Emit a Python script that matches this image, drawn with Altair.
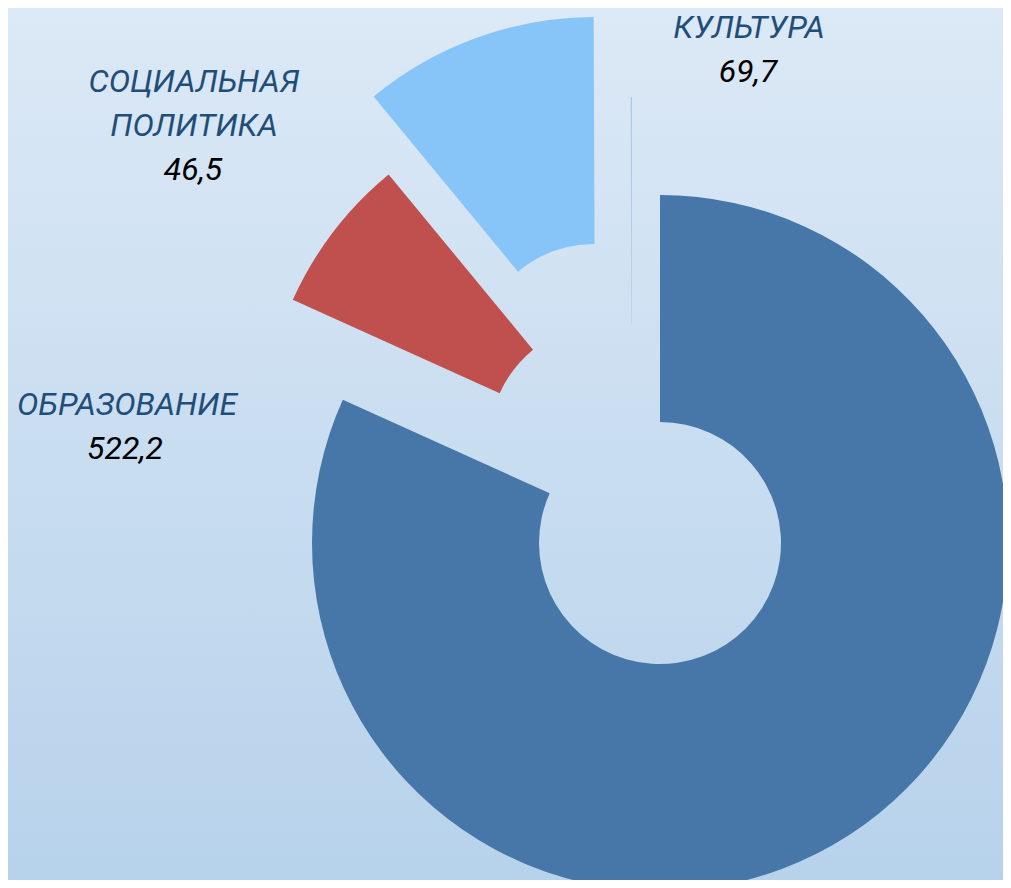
import altair as alt
import pandas as pd

# ---- data ----
categories = ["ОБРАЗОВАНИЕ", "СОЦИАЛЬНАЯ ПОЛИТИКА", "КУЛЬТУРА", ""]
values = [522.2, 46.5, 69.7, 0.4]
value_labels = [f"{v:.1f}".replace(".", ",") if c else "" for c, v in zip(categories, values)]

# ---- style ----
colors = ["#4677a8", "#c0504d", "#87c5f8", "#b0c9e6"]
explode_dx = [0, -50, -65, -28]
explode_dy = [0, -100, -178, -98]
CX, CY = 652, 535
W, H = 995, 872
OUTER, INNER = 348, 121

df = pd.DataFrame({
    "category": categories,
    "value": values,
    "vlabel": value_labels,
    "order": list(range(len(categories))),
    "dx": explode_dx,
    "dy": explode_dy,
})

bg = alt.Chart(pd.DataFrame({"a": [0]})).mark_rect(
    fill=alt.Gradient(
        gradient="linear",
        stops=[alt.GradientStop(color="#dce9f6", offset=0),
               alt.GradientStop(color="#b7d2eb", offset=1)],
        x1=0, x2=0, y1=0, y2=1,
    )
).encode(x=alt.value(0), x2=alt.value(W), y=alt.value(0), y2=alt.value(H))

arcs = alt.Chart(df).transform_window(
    cum="sum(value)", sort=[alt.SortField("order")], frame=[None, 0]
).transform_joinaggregate(
    total="sum(value)"
).transform_calculate(
    a0="2*PI*(datum.cum - datum.value)/datum.total",
    a1="2*PI*datum.cum/datum.total",
    px=f"{CX} + datum.dx",
    py=f"{CY} + datum.dy",
).mark_arc(radius=OUTER, innerRadius=INNER, clip=True).encode(
    x=alt.X("px:Q", scale=None, axis=None),
    y=alt.Y("py:Q", scale=None, axis=None),
    theta=alt.Theta("a0:Q", scale=None),
    theta2="a1:Q",
    color=alt.Color("category:N", scale=alt.Scale(domain=categories, range=colors), legend=None),
)

# label positions (style): category -> (name x, first-line y, value x, value y)
label_pos = {
    "ОБРАЗОВАНИЕ": (119, 397, 117, 441),
    "СОЦИАЛЬНАЯ ПОЛИТИКА": (186, 74, 185, 162),
    "КУЛЬТУРА": (741, 20, 740, 64),
}

labels = []
for cat, (nx, ny, vx, vy) in label_pos.items():
    base = alt.Chart(df).transform_filter(alt.datum.category == cat)
    labels.append(base.mark_text(
        font="Roboto", fontStyle="italic", fontSize=32, color="#1f4e79",
        align="center", baseline="middle", lineBreak=" ", lineHeight=44,
    ).encode(x=alt.value(nx), y=alt.value(ny), text="category:N"))
    labels.append(base.mark_text(
        font="Roboto", fontStyle="italic", fontSize=32, color="#000000",
        align="center", baseline="middle",
    ).encode(x=alt.value(vx), y=alt.value(vy), text="vlabel:N"))

chart = alt.layer(bg, arcs, *labels).properties(
    width=W, height=H, autosize="none", padding=0
).configure_view(strokeWidth=0)

chart.save("out.html", embed_options={"renderer": "svg", "actions": False})
